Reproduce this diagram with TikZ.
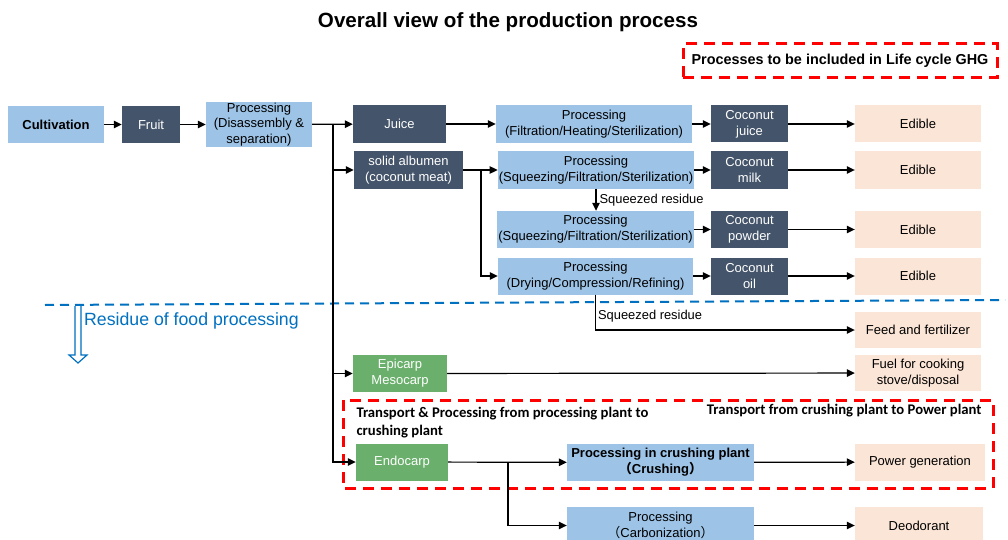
\documentclass[tikz,border=0pt]{standalone}
\usepackage{fontspec}
\setmainfont{Liberation Sans}
\newfontfamily\calfont{Carlito}
\newfontfamily\cjk{Noto Sans CJK SC}
\usetikzlibrary{arrows.meta}

\definecolor{lblue}{RGB}{157,195,230}
\definecolor{dblue}{RGB}{68,84,106}
\definecolor{peach}{RGB}{251,229,214}
\definecolor{leaf}{RGB}{106,176,108}
\definecolor{ghgred}{RGB}{255,0,0}
\definecolor{resblue}{RGB}{0,112,192}

\tikzset{
	box/.style={rectangle, inner sep=1pt, align=center, font=\fontsize{13}{16}\selectfont},
	lbox/.style={box, fill=lblue},
	dbox/.style={box, fill=dblue, text=white},
	pbox/.style={box, fill=peach},
	gbox/.style={box, fill=leaf, text=white},
	arr/.style={-{Triangle[length=8pt,width=7.5pt]}, line width=1.2pt},
	ghg/.style={draw=ghgred, line width=3pt, dash pattern=on 11pt off 7pt},
	note/.style={font=\calfont\bfseries\fontsize{14.7}{18}\selectfont, align=left}
}

\begin{document}
\begin{tikzpicture}[x=1pt, y=-1pt]
	\useasboundingbox (0,0) rectangle (1008,540);

	\node at (508,22) [font=\bfseries\fontsize{20.6}{22}\selectfont] (title) {Overall view of the production process};
	\node at (840,61) [ghg, minimum width=314pt, minimum height=34pt, font=\bfseries\fontsize{14.4}{16}\selectfont] (legend) {Processes to be included in Life cycle GHG};

	% first row
	\node at (56,124.5) [lbox, minimum width=96pt, minimum height=37pt, font=\bfseries\fontsize{13}{16}\selectfont] (cult) {Cultivation};
	\node at (151,124.5) [dbox, minimum width=58pt, minimum height=37pt] (fruit) {Fruit};
	\node at (259,124.5) [lbox, minimum width=106pt, minimum height=43pt, font=\fontsize{13}{15.5}\selectfont] (proc) {Processing\\(Disassembly \&\\separation)};
	\node at (399.5,124) [dbox, minimum width=93pt, minimum height=38pt] (juice) {Juice};
	\node at (408.5,170) [dbox, minimum width=109pt, minimum height=37pt] (albumen) {solid albumen\\(coconut meat)};

	% food processing
	\node at (594,124) [lbox, minimum width=196pt, minimum height=38pt] (pfilt) {Processing\\(Filtration/Heating/Sterilization)};
	\node at (596,170) [lbox, minimum width=196pt, minimum height=37pt] (psqz) {Processing\\(Squeezing/Filtration/Sterilization)};
	\node at (595.5,229.5) [lbox, minimum width=195pt, minimum height=37pt] (ppow) {Processing\\(Squeezing/Filtration/Sterilization)};
	\node at (595.5,276) [lbox, minimum width=195pt, minimum height=37pt] (pdry) {Processing\\(Drying/Compression/Refining)};

	\node at (749.5,124) [dbox, minimum width=77pt, minimum height=37pt] (cjuice) {Coconut\\juice};
	\node at (749.5,170) [dbox, minimum width=77pt, minimum height=37pt] (cmilk) {Coconut\\milk};
	\node at (749.5,229.5) [dbox, minimum width=77pt, minimum height=37pt] (cpowder) {Coconut\\powder};
	\node at (749.5,276) [dbox, minimum width=77pt, minimum height=37pt] (coil) {Coconut\\oil};

	\node at (918,124) [pbox, minimum width=126pt, minimum height=37pt] (ed1) {Edible};
	\node at (918,170) [pbox, minimum width=126pt, minimum height=37pt] (ed2) {Edible};
	\node at (918,229.5) [pbox, minimum width=126pt, minimum height=37pt] (ed3) {Edible};
	\node at (918,276) [pbox, minimum width=126pt, minimum height=37pt] (ed4) {Edible};
	\node at (918,330) [pbox, minimum width=126pt, minimum height=36pt] (feed) {Feed and fertilizer};

	% residue
	\draw [resblue, line width=2pt, dash pattern=on 9pt off 6pt] (45,305) -- (1005,300);
	\draw [resblue, line width=1.2pt, fill=white] (75,306) -- (75,355) -- (69,355) -- (78,363) -- (87,355) -- (81,355) -- (81,306);
	\node at (84,321) [anchor=west, inner sep=0pt, text=resblue, font=\fontsize{17.7}{19}\selectfont] (res) {Residue of food processing};

	\node at (400,373.5) [gbox, minimum width=94pt, minimum height=37pt] (epi) {Epicarp\\Mesocarp};
	\node at (918,373) [pbox, minimum width=126pt, minimum height=36pt] (fuel) {Fuel for cooking\\stove/disposal};

	\draw [ghg] (343,400) rectangle (993,488);
	\node at (353,404) [note, anchor=north west] (trans1) {Transport \& Processing from processing plant to\\crushing plant};
	\node at (985,411) [note, anchor=east] (trans2) {Transport from crushing plant to Power plant};

	\node at (402,462) [gbox, minimum width=92pt, minimum height=37pt] (endo) {Endocarp};
	\node at (660.5,462.5) [lbox, minimum width=187pt, minimum height=37pt, font=\bfseries\fontsize{13}{16}\selectfont] (pcrush) {Processing in crushing plant\\{\cjk （}Crushing{\cjk ）}};
	\node at (660.5,525.5) [lbox, minimum width=187pt, minimum height=37pt] (pcarb) {Processing\\{\cjk （}Carbonization{\cjk ）}};
	\node at (920,462) [pbox, minimum width=130pt, minimum height=37pt] (power) {Power generation};
	\node at (919,525.5) [pbox, minimum width=128pt, minimum height=37pt] (deo) {Deodorant};

	% connectors
	\coordinate (split) at (333,124.5);
	\coordinate (split2) at (481,170);
	\coordinate (split3) at (508,462);

	\draw [arr] (cult) -- (fruit);
	\draw [arr] (fruit) -- (proc);
	\draw [arr] (proc) -- (juice);
	\draw [arr] (split) |- (albumen);
	\draw [arr] (split) |- (epi);
	\draw [arr] (split) |- (endo);

	\draw [arr] (juice) -- (pfilt);
	\draw [arr] (albumen) -- (psqz);
	\draw [arr] (split2) |- (pdry);
	\draw [arr] (psqz.south) -- (psqz.south |- ppow.north) node[midway, right, font=\fontsize{12.9}{14}\selectfont, inner sep=3pt] {Squeezed residue};

	\draw [arr] (pfilt) -- (cjuice);
	\draw [arr] (psqz) -- (cmilk);
	\draw [arr] (ppow) -- (cpowder);
	\draw [arr] (pdry) -- (coil);
	\draw [arr] (cjuice) -- (ed1);
	\draw [arr] (cmilk) -- (ed2);
	\draw [arr] (cpowder) -- (ed3);
	\draw [arr] (coil) -- (ed4);

	\draw [arr] (pdry.south) |- (feed) node[pos=0.42, above right, font=\fontsize{12.9}{14}\selectfont, inner sep=2pt] {Squeezed residue};
	\draw [arr] (epi) -- (fuel);

	\draw [arr] (endo) -- (pcrush);
	\draw [arr] (split3) |- (pcarb);
	\draw [arr] (pcrush) -- (power);
	\draw [arr] (pcarb) -- (deo);
\end{tikzpicture}
\end{document}
